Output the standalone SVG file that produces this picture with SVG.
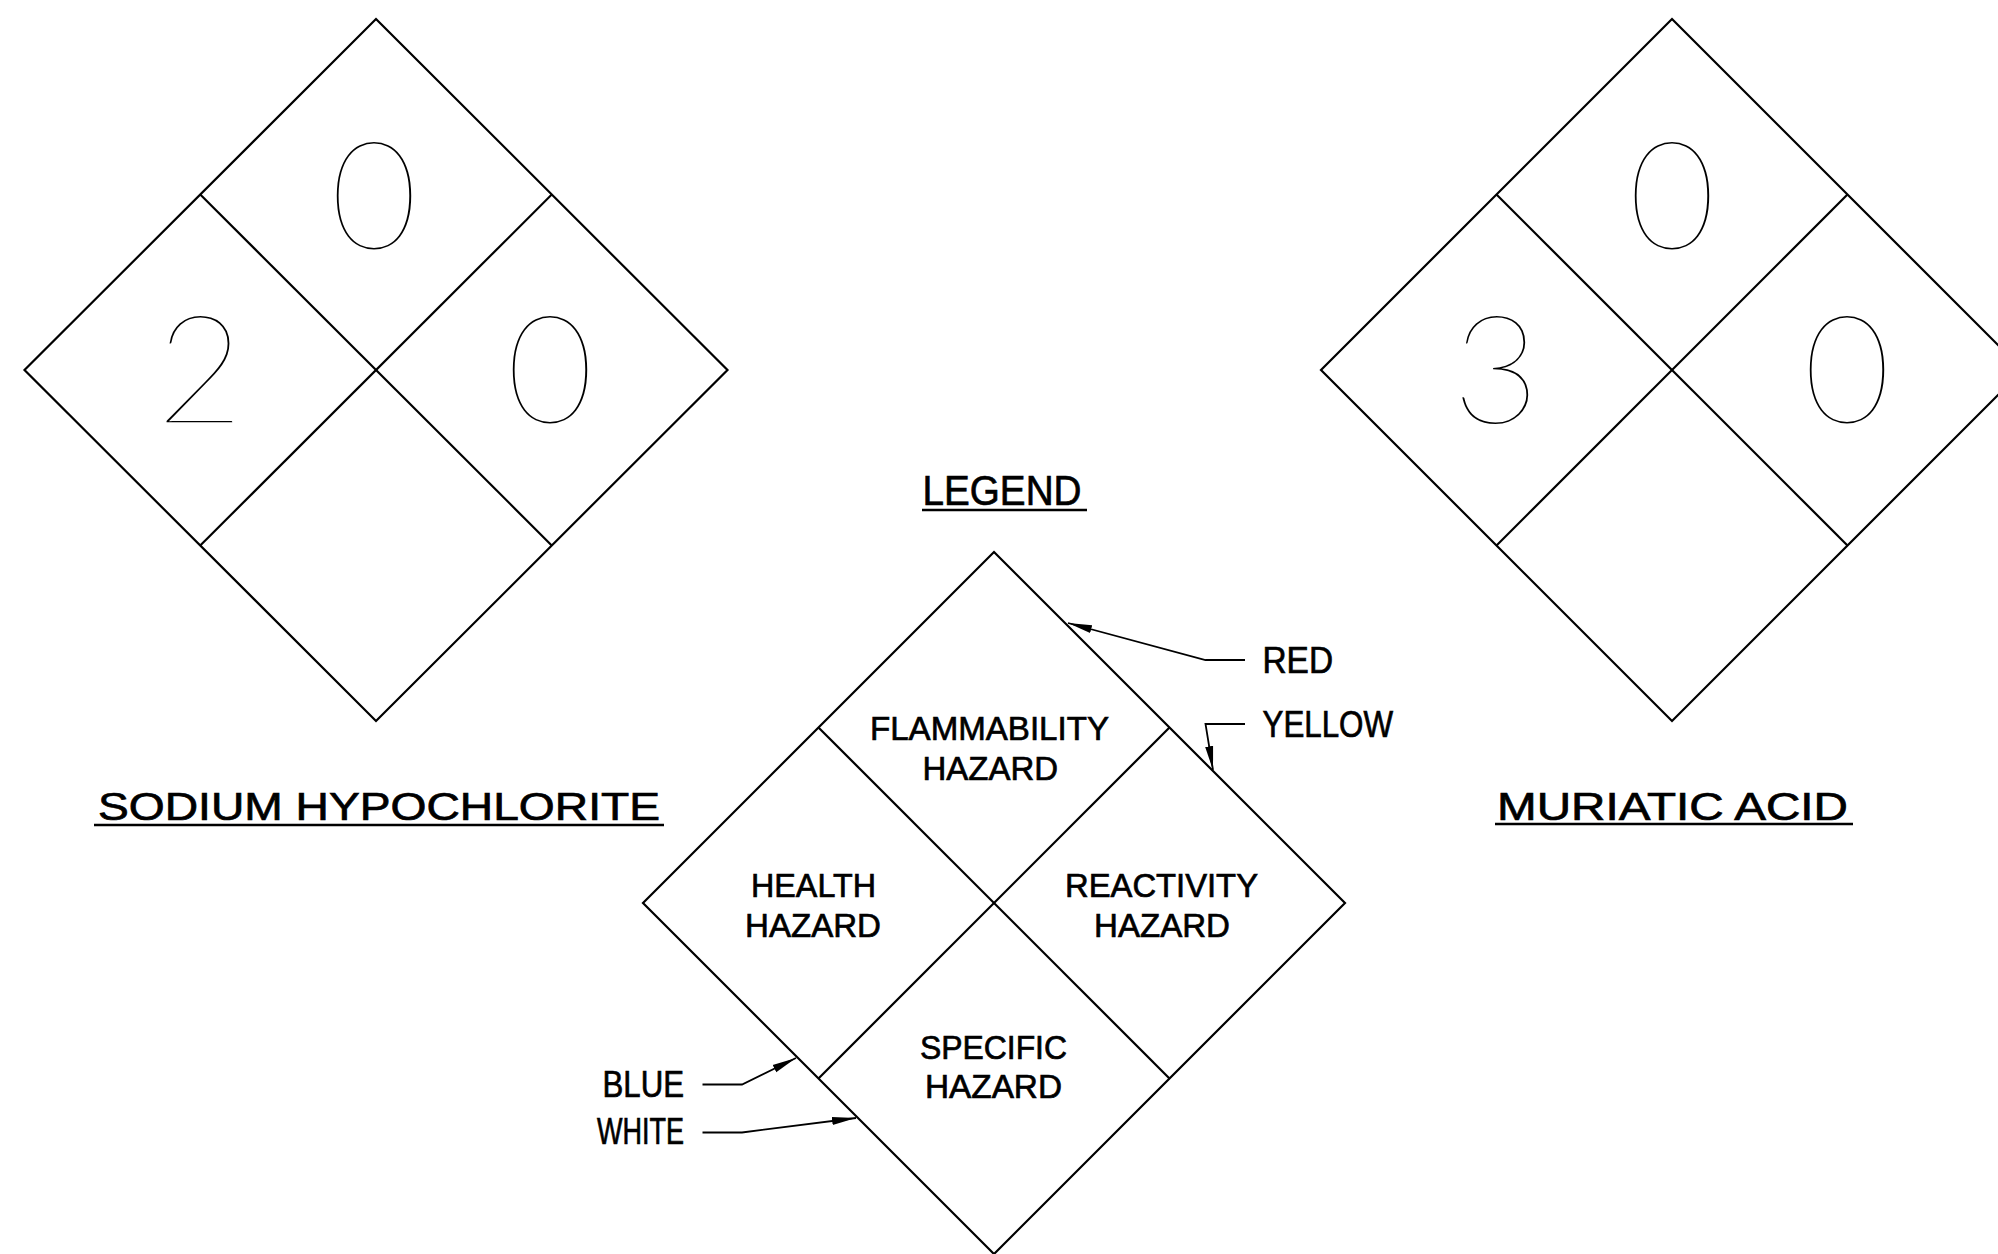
<svg xmlns="http://www.w3.org/2000/svg" width="1998" height="1254" viewBox="0 0 1998 1254">
<style>
.ln{fill:none;stroke:#000;stroke-width:2.2}
.ld{fill:none;stroke:#000;stroke-width:1.8}
.dg{font-family:Lato,Inter,Roboto,"Liberation Sans",sans-serif;font-weight:100;font-size:150px;fill:#000;text-anchor:middle}
.lb{font-family:"Liberation Sans",Arial,sans-serif;fill:#000;stroke:#000;stroke-width:0.7}
.t1{font-size:39px}
.t2{font-size:43px}
.t3{font-size:34px}
.t4{font-size:36px}
.ul{stroke:#000;stroke-width:2.6}
</style>
<defs>
<marker id="ah" markerUnits="userSpaceOnUse" markerWidth="24" markerHeight="12" viewBox="0 0 24 12" refX="24" refY="6" orient="auto">
<path d="M0,2 L24,6 L0,10 Z" fill="#000"/>
</marker>
</defs>
<rect width="1998" height="1254" fill="#fff"/>
<g id="sodium-hypochlorite">
<polygon class="ln" points="376,19 727.5,370 376,721 24.5,370"/>
<line class="ln" x1="200.25" y1="194.5" x2="551.75" y2="545.5"/>
<line class="ln" x1="551.75" y1="194.5" x2="200.25" y2="545.5"/>
<text class="dg" x="374" y="249">0</text>
<text class="dg" x="200" y="423">2</text>
<text class="dg" x="550" y="423">0</text>
<text class="lb t1" x="98" y="820" textLength="562" lengthAdjust="spacingAndGlyphs">SODIUM HYPOCHLORITE</text>
<line class="ul" x1="94" y1="825" x2="664" y2="825"/>
</g>
<g id="muriatic-acid">
<polygon class="ln" points="1672,19 2023,370 1672,721 1321,370"/>
<line class="ln" x1="1496.5" y1="194.5" x2="1847.5" y2="545.5"/>
<line class="ln" x1="1847.5" y1="194.5" x2="1496.5" y2="545.5"/>
<text class="dg" x="1672" y="249">0</text>
<text class="dg" x="1496" y="423">3</text>
<text class="dg" x="1847" y="423">0</text>
<text class="lb t1" x="1497" y="820" textLength="351" lengthAdjust="spacingAndGlyphs">MURIATIC ACID</text>
<line class="ul" x1="1495" y1="824" x2="1853" y2="824"/>
</g>
<g id="legend">
<text class="lb t2" x="922.5" y="505" textLength="159" lengthAdjust="spacingAndGlyphs">LEGEND</text>
<line class="ul" x1="922" y1="510" x2="1087" y2="510"/>
<polygon class="ln" points="994,552 1345,903 994,1254 643,903"/>
<line class="ln" x1="818.5" y1="727.5" x2="1169.5" y2="1078.5"/>
<line class="ln" x1="1169.5" y1="727.5" x2="818.5" y2="1078.5"/>
</g>
<g id="flammability">
<text class="lb t3" x="870" y="740" textLength="239" lengthAdjust="spacingAndGlyphs">FLAMMABILITY</text>
<text class="lb t3" x="922.5" y="780" textLength="135.5" lengthAdjust="spacingAndGlyphs">HAZARD</text>
</g>
<g id="health">
<text class="lb t3" x="751" y="896.5" textLength="125" lengthAdjust="spacingAndGlyphs">HEALTH</text>
<text class="lb t3" x="745" y="937" textLength="136" lengthAdjust="spacingAndGlyphs">HAZARD</text>
</g>
<g id="reactivity">
<text class="lb t3" x="1065" y="897" textLength="193" lengthAdjust="spacingAndGlyphs">REACTIVITY</text>
<text class="lb t3" x="1094" y="937" textLength="136" lengthAdjust="spacingAndGlyphs">HAZARD</text>
</g>
<g id="specific">
<text class="lb t3" x="920" y="1059" textLength="147" lengthAdjust="spacingAndGlyphs">SPECIFIC</text>
<text class="lb t3" x="925" y="1098" textLength="137" lengthAdjust="spacingAndGlyphs">HAZARD</text>
</g>
<g id="label-red"><text class="lb t4" x="1262.5" y="673" textLength="70.5" lengthAdjust="spacingAndGlyphs">RED</text></g>
<g id="label-yellow"><text class="lb t4" x="1262.5" y="737" textLength="130.5" lengthAdjust="spacingAndGlyphs">YELLOW</text></g>
<g id="label-blue"><text class="lb t4" x="602.5" y="1097" textLength="81.5" lengthAdjust="spacingAndGlyphs">BLUE</text></g>
<g id="label-white"><text class="lb t4" x="597" y="1144" textLength="87" lengthAdjust="spacingAndGlyphs">WHITE</text></g>
<g id="connectors">
<polyline class="ld" points="1245,660 1205.5,660 1068,623" marker-end="url(#ah)"/>
<polyline class="ld" points="1245,724 1205.5,724 1213,770" marker-end="url(#ah)"/>
<polyline class="ld" points="702.5,1084.5 742,1084.5 796,1058" marker-end="url(#ah)"/>
<polyline class="ld" points="702.5,1132.5 742,1132.5 856,1118" marker-end="url(#ah)"/>
</g>
</svg>
